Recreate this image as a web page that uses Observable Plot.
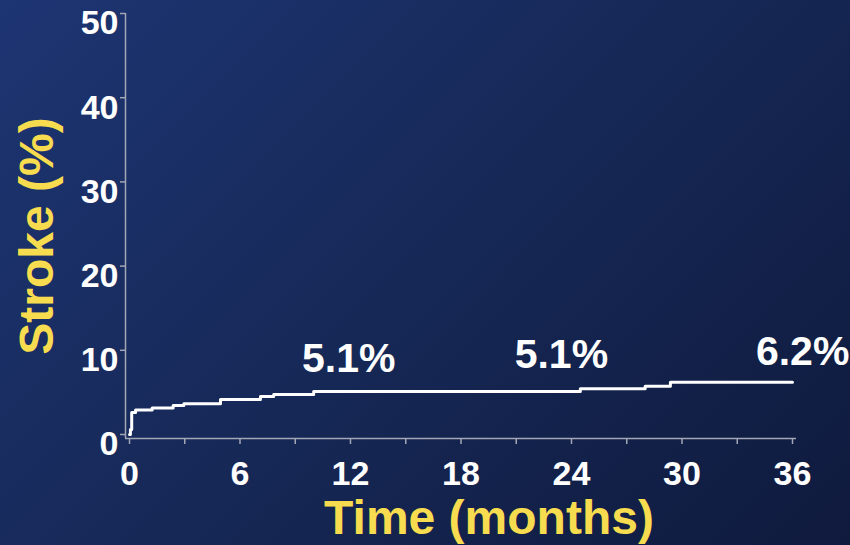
<!DOCTYPE html>
<html>
<head>
<meta charset="utf-8">
<script src="https://cdn.jsdelivr.net/npm/d3@7"></script>
<script src="https://cdn.jsdelivr.net/npm/@observablehq/plot@0.6"></script>
<style>
  html, body { margin: 0; padding: 0; }
  body {
    width: 850px; height: 545px; overflow: hidden;
    background: linear-gradient(135deg, #1d3573 0%, #162856 50%, #0f1a3d 100%);
  }
  #chart svg { display: block; }
</style>
</head>
<body>
<div id="chart"></div>
<script>
// Kaplan–Meier style cumulative stroke curve (months, %)
const months = [0, 0.05, 0.12, 0.33, 1.23, 2.37, 2.95, 4.94, 7.11, 7.83, 10.0, 24.48, 28.0, 29.37, 36];
const strokePct = [0, 0.6, 2.6, 2.9, 3.15, 3.45, 3.65, 4.15, 4.5, 4.75, 5.1, 5.43, 5.74, 6.2, 6.2];

// annotation labels
const labelText = ["5.1%", "5.1%", "6.2%"];
const labelMonth = [11.9, 23.45, 36.55];
const labelLevel = [8.95, 9.43, 9.87];

// axis ticks
const xTicks = d3.range(0, 37, 3);
const xTickLabels = [0, 6, 12, 18, 24, 30, 36];
const yTicks = [0, 10, 20, 30, 40, 50];

const yellow = "#f7dc4f";
const axisGrey = "#a3a7b5";

const curve = months.map((m, i) => ({month: m, pct: strokePct[i]}));
const labels = labelText.map((t, i) => ({text: t, month: labelMonth[i], level: labelLevel[i]}));

const chart = Plot.plot({
  width: 850,
  height: 545,
  marginLeft: 129,
  marginRight: 58,
  marginTop: 13,
  marginBottom: 111,
  style: {background: "transparent", color: "white", fontFamily: "'Liberation Sans', Arial, sans-serif", overflow: "visible"},
  x: {domain: [0, 36], axis: null},
  y: {domain: [0, 50], axis: null},
  marks: [
    // axis lines (offset like base R plots)
    Plot.ruleY([0], {dy: 4, insetLeft: -4, insetRight: -4, stroke: axisGrey, strokeWidth: 1.5}),
    Plot.ruleX([0], {dx: -4, insetBottom: -4, stroke: axisGrey, strokeWidth: 1.5}),
    // x ticks
    Plot.axisX(xTicks, {tickSize: 6, dy: 4, tickFormat: () => "", stroke: axisGrey, strokeWidth: 1.5, label: null}),
    Plot.textX(xTickLabels, {x: d => d, text: d => String(d), frameAnchor: "bottom", lineAnchor: "top", dy: 26, fontSize: 34, fontWeight: "bold", fill: "white"}),
    // y ticks
    Plot.axisY(yTicks, {tickSize: 5, dx: -4, tickFormat: () => "", stroke: axisGrey, strokeWidth: 1.5, label: null}),
    Plot.textY(yTicks, {y: d => d, text: d => String(d), frameAnchor: "left", textAnchor: "end", dx: -11, dy: 10, fontSize: 34, fontWeight: "bold", fill: "white"}),
    // curve
    Plot.line(curve, {x: "month", y: "pct", curve: "step-after", stroke: "white", strokeWidth: 3}),
    // value annotations
    Plot.text(labels, {x: "month", y: "level", text: "text", fontSize: 41, fontWeight: "bold", fill: "white"}),
    // axis titles
    Plot.text(["Stroke (%)"], {text: d => d, frameAnchor: "left", textAnchor: "middle", lineAnchor: "middle", rotate: -90, dx: -92, dy: 12, fontSize: 48, fontWeight: "bold", fill: yellow}),
    Plot.text(["Time (months)"], {text: d => d, frameAnchor: "bottom", textAnchor: "middle", dx: 28, dy: 99, fontSize: 48, fontWeight: "bold", fill: yellow})
  ]
});
document.getElementById("chart").appendChild(chart);
</script>
</body>
</html>
